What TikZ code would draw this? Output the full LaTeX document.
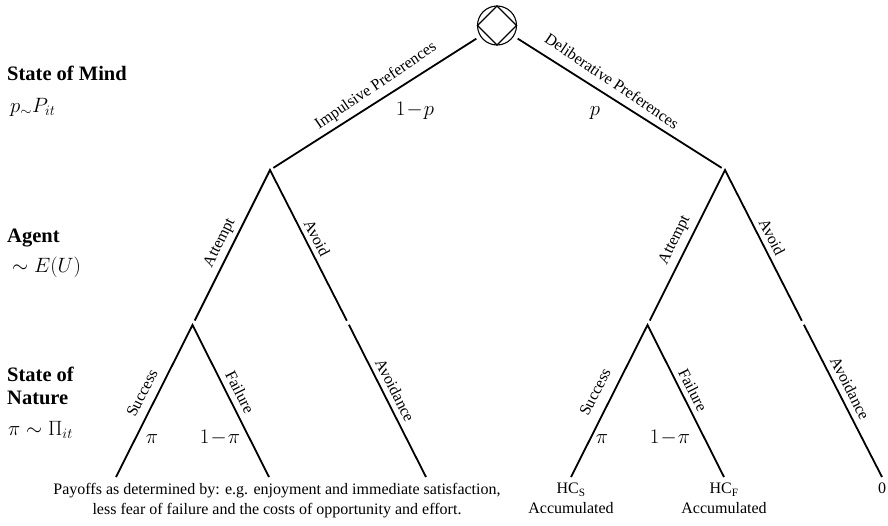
\documentclass[tikz,border=0pt]{standalone}
\usepackage[no-math]{fontspec}
\setmainfont{Liberation Serif}
\begin{document}
\begin{tikzpicture}[x=1pt,y=-1pt,
  branch/.style={line width=1.8pt},
  lbl/.style={font=\fontsize{16}{19}\selectfont, inner sep=0pt},
  headtxt/.style={font=\fontsize{20.5}{23}\selectfont\bfseries, anchor=base west, inner sep=0pt},
  mhead/.style={font=\fontsize{21}{23}\selectfont, anchor=base west, inner sep=0pt},
  prob/.style={font=\fontsize{20.74}{23}\selectfont, inner sep=0pt, anchor=base},
  leaftxt/.style={font=\fontsize{16}{20}\selectfont, anchor=north, inner sep=0pt, align=center},
]
\useasboundingbox (0,0) rectangle (888,525);

% root
\node[draw, circle, line width=1.1pt, minimum size=39pt, inner sep=0pt, outer sep=0pt] (root) at (497,25.5) {};
\draw[line width=1.1pt] (root.north) -- (root.east) -- (root.south) -- (root.west) -- cycle;

% decision / chance points
\coordinate (A1) at (270,170);
\coordinate (C1) at (192.5,325);
\coordinate (M1) at (348,323);
\coordinate (L1) at (116,477);
\coordinate (L2) at (269,477);
\coordinate (L3) at (426,477);
\coordinate (A2) at (725,170);
\coordinate (C2) at (647.5,325);
\coordinate (M2) at (803,323);
\coordinate (L4) at (571,477);
\coordinate (L5) at (724,477);
\coordinate (L6) at (882,477);

% branches from root
\draw[branch, shorten <=5pt, shorten >=4pt] (root) -- (A1);
\draw[branch, shorten <=5pt, shorten >=4pt] (root) -- (A2);

% left subtree
\draw[branch, shorten <=5pt, shorten >=2.5pt] (C1) -- (A1) -- (M1);
\draw[branch] (L1) -- (C1) -- (L2);
\draw[branch, shorten <=2pt] (M1) -- (L3);

% right subtree
\draw[branch, shorten <=5pt, shorten >=2.5pt] (C2) -- (A2) -- (M2);
\draw[branch] (L4) -- (C2) -- (L5);
\draw[branch, shorten <=2pt] (M2) -- (L6);

% branch labels
\node[lbl, rotate=34.2] (lImp) at (376,86) {Impulsive Preferences};
\node[lbl, rotate=-34] (lDel) at (612,81) {Deliberative Preferences};
\node[lbl, rotate=63.6] (lAt1) at (220,243) {Attempt};
\node[lbl, rotate=-63] (lAv1) at (317,238) {Avoid};
\node[lbl, rotate=63.6] (lAt2) at (675,240) {Attempt};
\node[lbl, rotate=-63] (lAv2) at (772,237) {Avoid};
\node[lbl, rotate=63] (lSu1) at (142,393) {Success};
\node[lbl, rotate=-63.4] (lFa1) at (240,392) {Failure};
\node[lbl, rotate=-63] (lAd1) at (395,390) {Avoidance};
\node[lbl, rotate=63] (lSu2) at (595,392) {Success};
\node[lbl, rotate=-63.4] (lFa2) at (693,390) {Failure};
\node[lbl, rotate=-63] (lAd2) at (850,388) {Avoidance};

% probabilities
\node[prob] (p1) at (415,115) {$1\!-\!p$};
\node[prob] (p2) at (595,115) {$p$};
\node[prob] (pi1) at (152,443) {$\pi$};
\node[prob] (pi2) at (220,443) {$1\!-\!\pi$};
\node[prob] (pi3) at (602,443) {$\pi$};
\node[prob] (pi4) at (670,443) {$1\!-\!\pi$};

% left headings
\node[headtxt] (h1) at (7,80) {State of Mind};
\node[mhead] (m1) at (10,112) {$p_{\sim}P_{it}$};
\node[headtxt] (h2) at (7,242) {Agent};
\node[mhead] (m2) at (12,272) {$\sim E(U)$};
\node[headtxt] (h3a) at (7,381) {State of};
\node[headtxt] (h3b) at (7,404) {Nature};
\node[mhead] (m3) at (8,435) {$\pi\sim\Pi_{it}$};

% payoffs
\node[leaftxt] (pay) at (277,483) {Payoffs as determined by: e.g. enjoyment and immediate satisfaction,\\less fear of failure and the costs of opportunity and effort.};
\node[leaftxt] (hcs) at (571,483) {HC\textsubscript{S}\\Accumulated};
\node[leaftxt] (hcf) at (724,483) {HC\textsubscript{F}\\Accumulated};
\node[leaftxt] (zero) at (882,483) {0};
\end{tikzpicture}
\end{document}
